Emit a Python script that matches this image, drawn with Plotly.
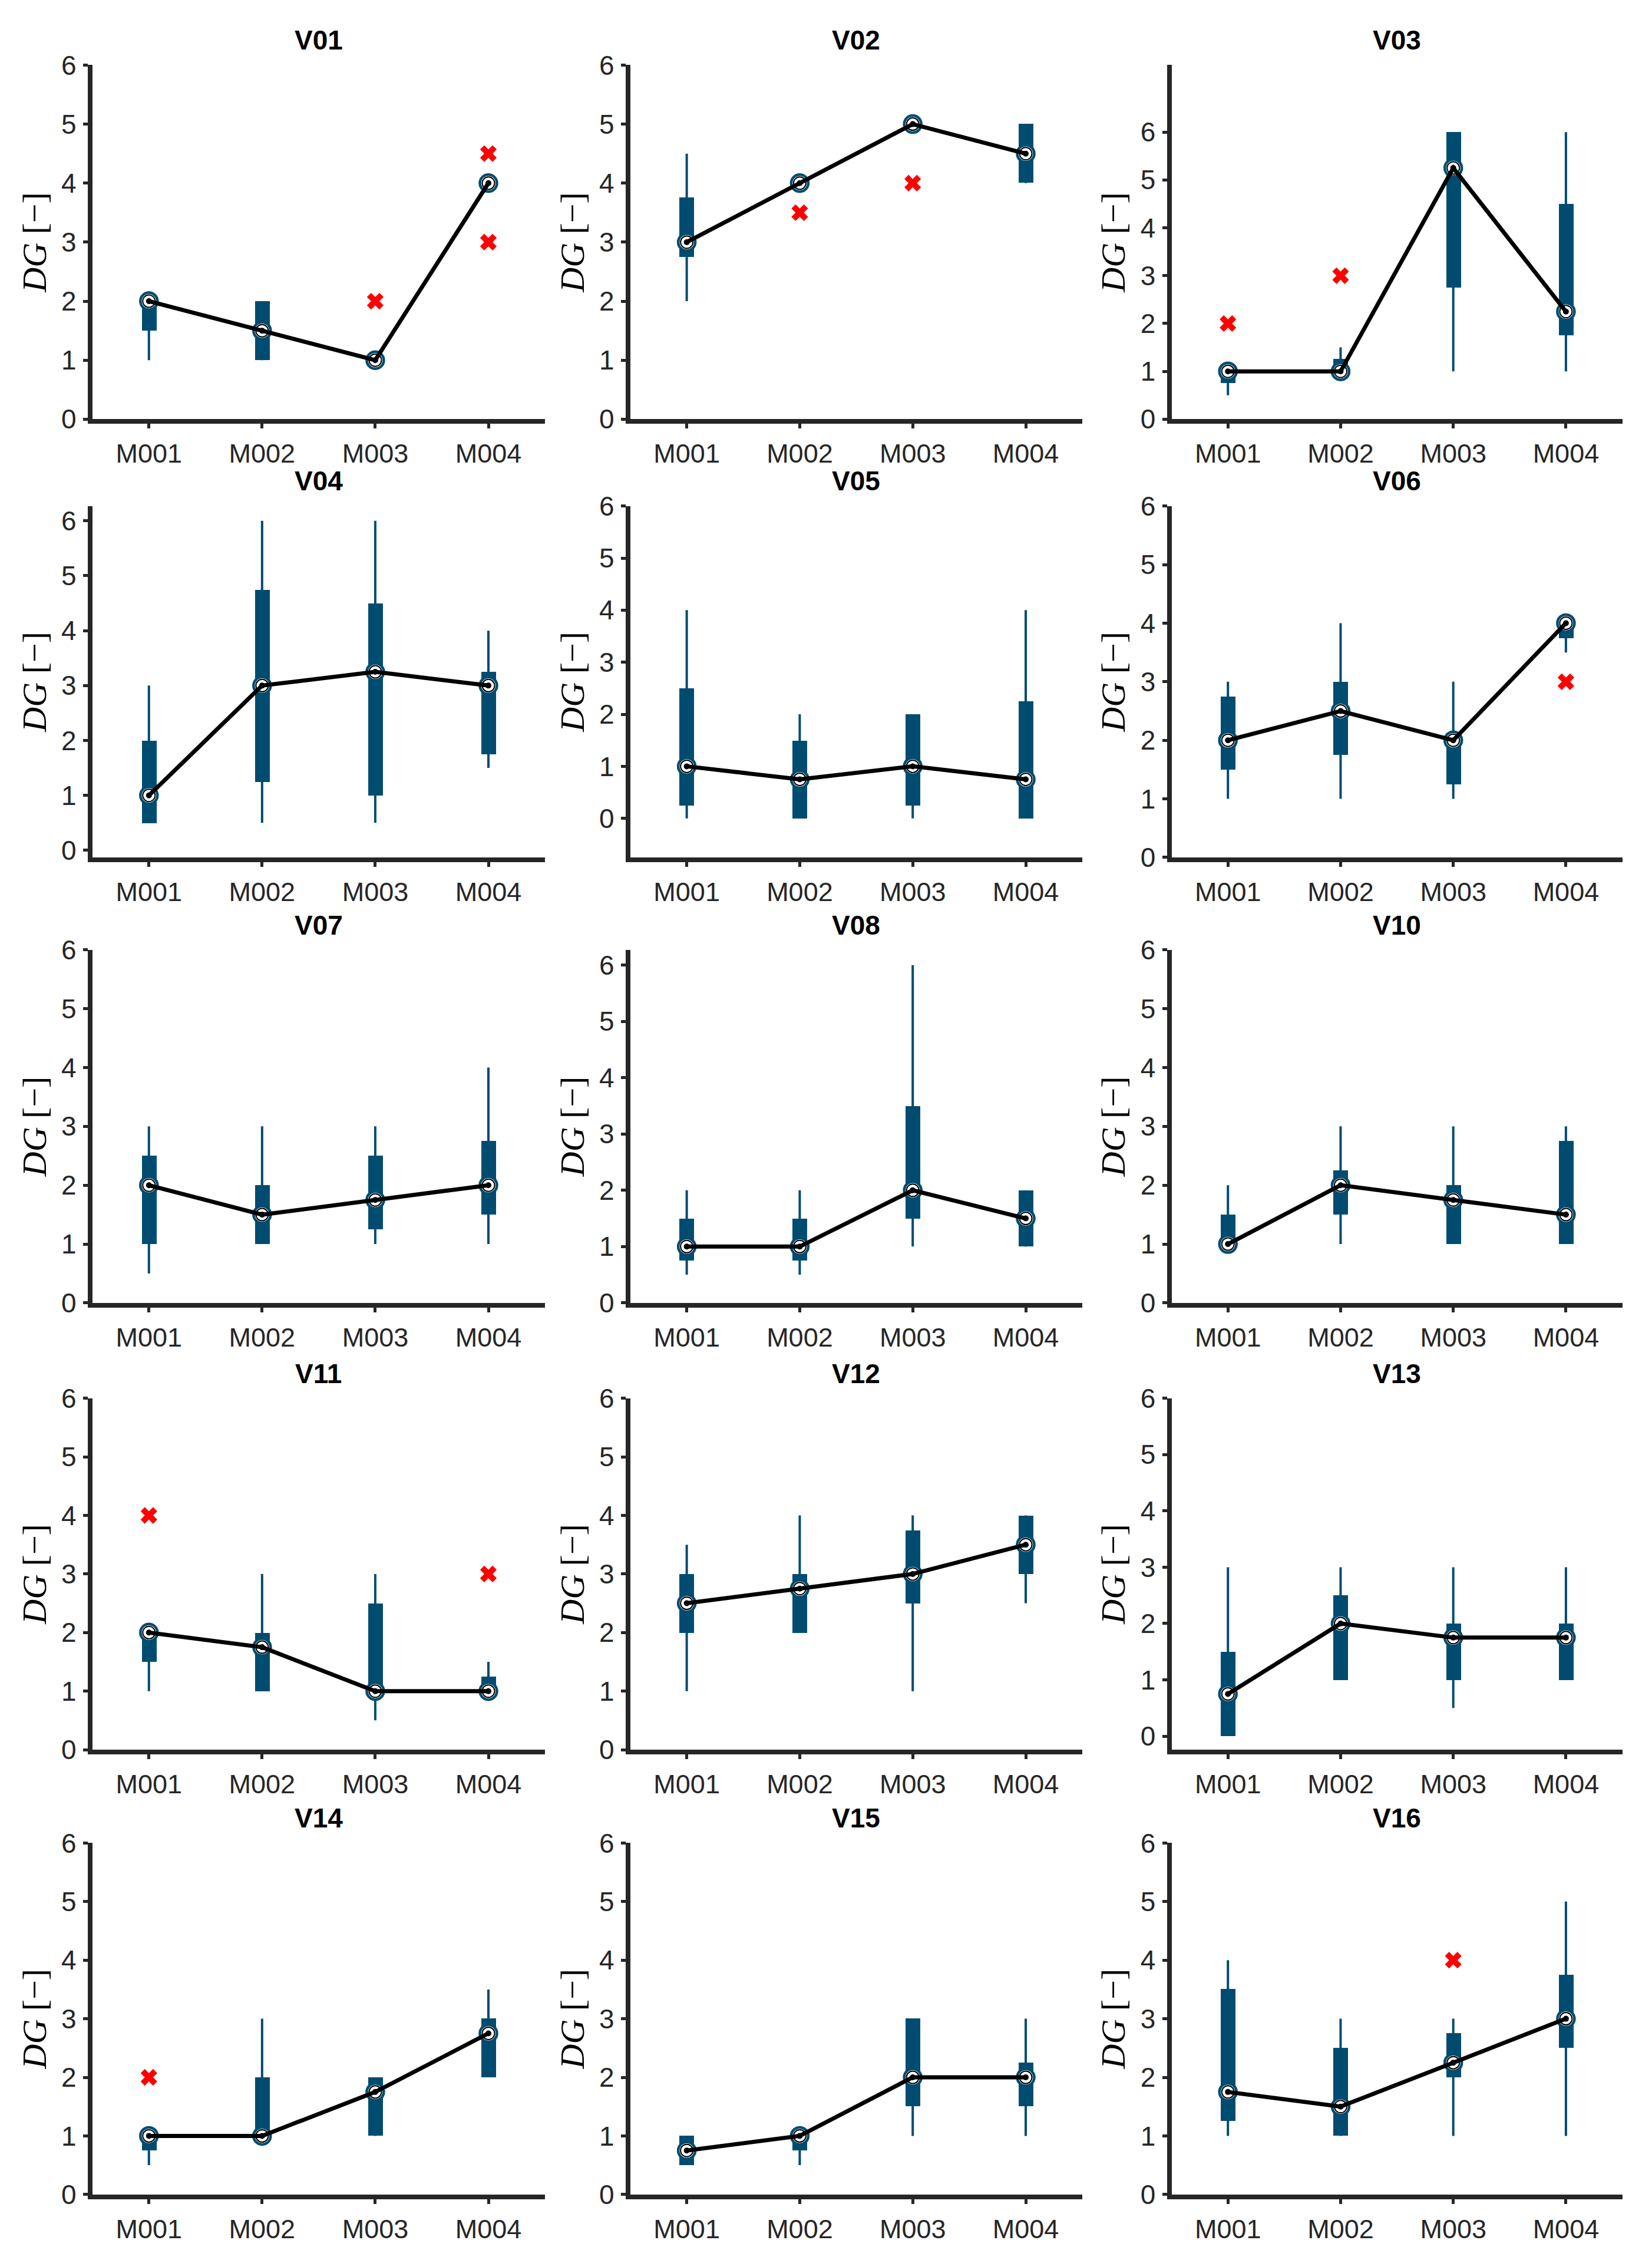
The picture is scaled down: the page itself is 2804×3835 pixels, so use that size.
import plotly.graph_objects as go

# ---------------- data ----------------
categories = ['M001', 'M002', 'M003', 'M004']
panels = ['V01', 'V02', 'V03', 'V04', 'V05', 'V06', 'V07', 'V08',
          'V10', 'V11', 'V12', 'V13', 'V14', 'V15', 'V16']

whisker_lo = [
    [1, 1, 1, 4],          # V01
    [2, 4, 5, 4],          # V02
    [0.5, 1, 1, 1],        # V03
    [0.5, 0.5, 0.5, 1.5],  # V04
    [0, 0, 0, 0],          # V05
    [1, 1, 1, 3.5],        # V06
    [0.5, 1, 1, 1],        # V07
    [0.5, 0.5, 1, 1],      # V08
    [1, 1, 1, 1],          # V10
    [1, 1, 0.5, 1],        # V11
    [1, 2, 1, 2.5],        # V12
    [0, 1, 0.5, 1],        # V13
    [0.5, 1, 1, 2],        # V14
    [0.5, 0.5, 1, 1],      # V15
    [1, 1, 1, 1],          # V16
]
q1 = [
    [1.5, 1, 1, 4],
    [2.75, 4, 5, 4],
    [0.75, 1, 2.75, 1.75],
    [0.5, 1.25, 1, 1.75],
    [0.25, 0, 0.25, 0],
    [1.5, 1.75, 1.25, 3.75],
    [1, 1, 1.25, 1.5],
    [0.75, 0.75, 1.5, 1],
    [1, 1.5, 1, 1],
    [1.5, 1, 1, 1],
    [2, 2, 2.5, 3],
    [0, 1, 1, 1],
    [0.75, 1, 1, 2],
    [0.5, 0.75, 1.5, 1.5],
    [1.25, 1, 2, 2.5],
]
median = [
    [2, 1.5, 1, 4],
    [3, 4, 5, 4.5],
    [1, 1, 5.25, 2.25],
    [1, 3, 3.25, 3],
    [1, 0.75, 1, 0.75],
    [2, 2.5, 2, 4],
    [2, 1.5, 1.75, 2],
    [1, 1, 2, 1.5],
    [1, 2, 1.75, 1.5],
    [2, 1.75, 1, 1],
    [2.5, 2.75, 3, 3.5],
    [0.75, 2, 1.75, 1.75],
    [1, 1, 1.75, 2.75],
    [0.75, 1, 2, 2],
    [1.75, 1.5, 2.25, 3],
]
q3 = [
    [2, 2, 1, 4],
    [3.75, 4, 5, 5],
    [1, 1.25, 6, 4.5],
    [2, 4.75, 4.5, 3.25],
    [2.5, 1.5, 2, 2.25],
    [2.75, 3, 2, 4],
    [2.5, 2, 2.5, 2.75],
    [1.5, 1.5, 3.5, 2],
    [1.5, 2.25, 2, 2.75],
    [2, 2, 2.5, 1.25],
    [3, 3, 3.75, 4],
    [1.5, 2.5, 2, 2],
    [1, 2, 2, 3],
    [1, 1, 3, 2.25],
    [3.5, 2.5, 2.75, 3.75],
]
whisker_hi = [
    [2, 2, 1, 4],
    [4.5, 4, 5, 5],
    [1, 1.5, 6, 6],
    [3, 6, 6, 4],
    [4, 2, 2, 4],
    [3, 4, 3, 4],
    [3, 3, 3, 4],
    [2, 2, 6, 2],
    [2, 3, 3, 3],
    [2, 3, 3, 1.5],
    [3.5, 4, 4, 4],
    [3, 3, 3, 3],
    [1, 3, 2, 3.5],
    [1, 1, 3, 3],
    [4, 3, 3, 5],
]
outlier_panel = ['V01', 'V01', 'V01', 'V02', 'V02', 'V03', 'V03', 'V06', 'V11', 'V11', 'V14', 'V16']
outlier_cat = ['M003', 'M004', 'M004', 'M002', 'M003', 'M001', 'M002', 'M004', 'M001', 'M004', 'M001', 'M003']
outlier_val = [2, 4.5, 3, 3.5, 4, 2, 3, 3, 4, 3, 2, 4]

yticks = [0, 1, 2, 3, 4, 5, 6]

# ---------------- style / layout ----------------
y_lo = [0, 0, 0, -0.13, -0.75, 0, 0, 0, 0, 0, 0, -0.24, 0, 0, 0]
y_hi = [6, 6, 7.4, 6.27, 6, 6, 6, 6.27, 6, 6, 6, 6, 6, 6, 6]

col_x = [(0.0559, 0.3299), (0.3815, 0.6551), (0.7092, 0.9820)]
row_y = [(0.8145, 0.9712), (0.6206, 0.7761), (0.4235, 0.5797),
         (0.2258, 0.3813), (0.0290, 0.1845)]

BLUE = '#004C70'
AX = '#262626'
SANS = 'Liberation Sans, Arial, sans-serif'
SERIF = 'Liberation Serif, Times New Roman, serif'

xpos = [1, 2, 3, 4]
cat_index = {c: i + 1 for i, c in enumerate(categories)}

fig = go.Figure()
annotations = []

for i, name in enumerate(panels):
    n = i + 1
    r, c = divmod(i, 3)
    xa = 'x' if n == 1 else f'x{n}'
    ya = 'y' if n == 1 else f'y{n}'

    # whiskers
    wx, wy = [], []
    for k in range(4):
        wx += [xpos[k], xpos[k], None]
        wy += [whisker_lo[i][k], whisker_hi[i][k], None]
    fig.add_trace(go.Scatter(x=wx, y=wy, mode='lines', xaxis=xa, yaxis=ya,
                             line=dict(color=BLUE, width=4),
                             showlegend=False, hoverinfo='skip', cliponaxis=False))
    # boxes (IQR bars)
    fig.add_trace(go.Bar(x=xpos, y=[q3[i][k] - q1[i][k] for k in range(4)],
                         base=q1[i], width=0.13, xaxis=xa, yaxis=ya,
                         marker=dict(color=BLUE, line=dict(width=0)),
                         showlegend=False, hoverinfo='skip'))
    # median circles
    fig.add_trace(go.Scatter(x=xpos, y=median[i], mode='markers', xaxis=xa, yaxis=ya,
                             marker=dict(symbol='circle', size=29, color='white',
                                         line=dict(color=BLUE, width=4.5)),
                             showlegend=False, hoverinfo='skip', cliponaxis=False))
    fig.add_trace(go.Scatter(x=xpos, y=median[i], mode='markers', xaxis=xa, yaxis=ya,
                             marker=dict(symbol='circle-open', size=21, color='black',
                                         line=dict(width=2)),
                             showlegend=False, hoverinfo='skip', cliponaxis=False))
    # median line
    fig.add_trace(go.Scatter(x=xpos, y=median[i], mode='lines+markers', xaxis=xa, yaxis=ya,
                             line=dict(color='black', width=7),
                             marker=dict(symbol='circle', size=10, color='black'),
                             showlegend=False, hoverinfo='skip', cliponaxis=False))
    # outliers
    ox = [cat_index[outlier_cat[j]] for j in range(len(outlier_val)) if outlier_panel[j] == name]
    oy = [outlier_val[j] for j in range(len(outlier_val)) if outlier_panel[j] == name]
    if ox:
        fig.add_trace(go.Scatter(x=ox, y=oy, mode='markers', xaxis=xa, yaxis=ya,
                                 marker=dict(symbol='x', size=25, color='#FF0000',
                                             line=dict(width=0)),
                                 showlegend=False, hoverinfo='skip', cliponaxis=False))

    xkey = 'xaxis' if n == 1 else f'xaxis{n}'
    ykey = 'yaxis' if n == 1 else f'yaxis{n}'
    fig.layout[xkey] = dict(
        domain=list(col_x[c]), range=[0.5, 4.5], anchor=ya, automargin=False,
        tickvals=xpos, ticktext=categories,
        showline=True, linecolor=AX, linewidth=8,
        ticks='outside', ticklen=8, tickwidth=5, tickcolor=AX,
        showgrid=False, zeroline=False, ticklabelstandoff=4,
        tickfont=dict(family=SANS, size=45, color=AX), fixedrange=True)
    fig.layout[ykey] = dict(
        domain=list(row_y[r]), range=[y_lo[i], y_hi[i]], anchor=xa, automargin=False,
        tickvals=yticks, showline=True, linecolor=AX, linewidth=8,
        ticks='outside', ticklen=8, tickwidth=5, tickcolor=AX,
        showgrid=False, zeroline=False, ticklabelstandoff=2,
        tickfont=dict(family=SANS, size=46, color=AX),
        title=dict(text='<i>DG</i> [−]', standoff=10,
                   font=dict(family=SERIF, size=58, color='black')),
        fixedrange=True)

    annotations.append(dict(
        text=f'<b>{name}</b>', x=(col_x[c][0] + col_x[c][1]) / 2, y=row_y[r][1] + 0.0110,
        xref='paper', yref='paper', xanchor='center', yanchor='middle', showarrow=False,
        font=dict(family=SANS, size=46, color='black')))

fig.update_layout(
    width=2804, height=3835,
    margin=dict(l=0, r=0, t=0, b=0, pad=0, autoexpand=False),
    paper_bgcolor='white', plot_bgcolor='white',
    showlegend=False, annotations=annotations, bargap=0)

fig.write_html('out.html', config={'displayModeBar': False},
               post_script="document.body.style.margin='0';document.body.style.overflow='hidden';")
